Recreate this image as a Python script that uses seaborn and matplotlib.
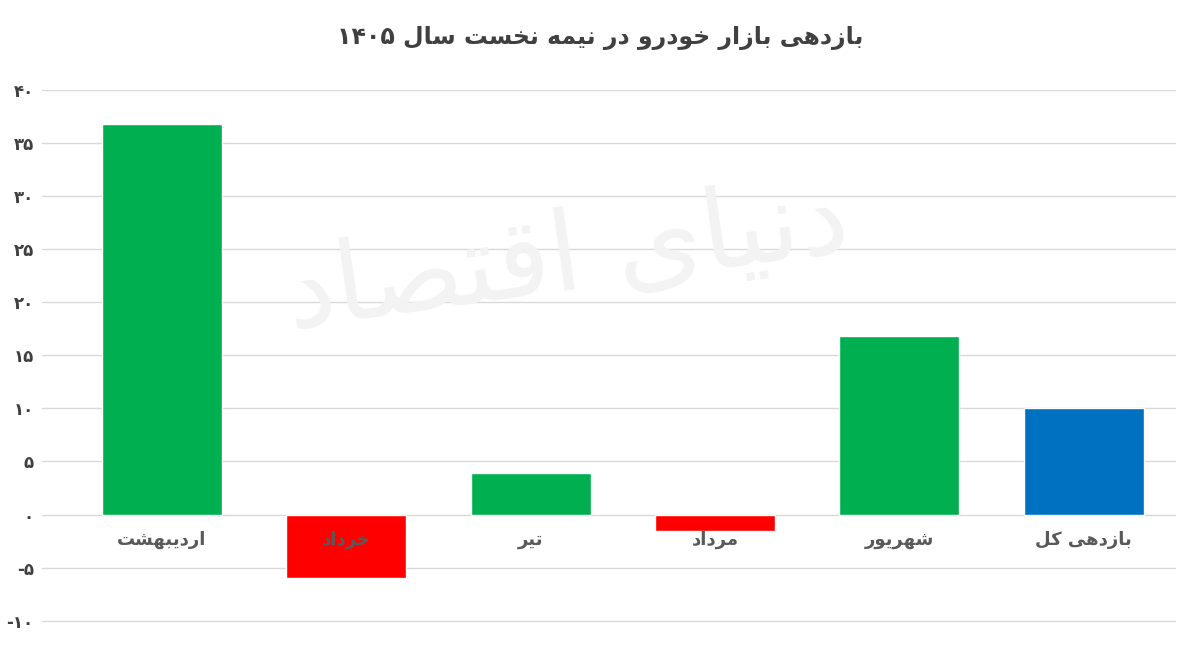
import matplotlib
matplotlib.use('Agg')
import matplotlib.pyplot as plt
import seaborn as sns
import pandas as pd

months = ["اردیبهشت", "خرداد", "تیر", "مرداد", "شهریور", "بازدهی کل"]
returns = [36.8, -6.0, 3.9, -1.5, 16.8, 10.0]
colors = ["#00B050", "#FF0000", "#00B050", "#FF0000", "#00B050", "#0070C0"]
title = "بازدهی بازار خودرو در نیمه نخست سال ۱۴۰۵"
yticks = list(range(-10, 45, 5))

# minimal Persian shaping: (isolated, final, initial, medial); 2-tuple = no joining to next
FORMS = {
    'ا': (0xFE8D, 0xFE8E), 'د': (0xFEA9, 0xFEAA), 'ر': (0xFEAD, 0xFEAE),
    'ز': (0xFEAF, 0xFEB0), 'و': (0xFEED, 0xFEEE),
    'ب': (0xFE8F, 0xFE90, 0xFE91, 0xFE92), 'ت': (0xFE95, 0xFE96, 0xFE97, 0xFE98),
    'خ': (0xFEA5, 0xFEA6, 0xFEA7, 0xFEA8), 'س': (0xFEB1, 0xFEB2, 0xFEB3, 0xFEB4),
    'ش': (0xFEB5, 0xFEB6, 0xFEB7, 0xFEB8), 'ل': (0xFEDD, 0xFEDE, 0xFEDF, 0xFEE0),
    'م': (0xFEE1, 0xFEE2, 0xFEE3, 0xFEE4), 'ن': (0xFEE5, 0xFEE6, 0xFEE7, 0xFEE8),
    'ه': (0xFEE9, 0xFEEA, 0xFEEB, 0xFEEC), 'ی': (0xFBFC, 0xFBFD, 0xFBFE, 0xFBFF),
    'ک': (0xFB8E, 0xFB8F, 0xFB90, 0xFB91), 'ق': (0xFED5, 0xFED6, 0xFED7, 0xFED8),
    'ص': (0xFEB9, 0xFEBA, 0xFEBB, 0xFEBC),
}


def shape(text):
    out = []
    for w in text.split(' '):
        chars = []
        for i, c in enumerate(w):
            if c not in FORMS:
                chars.append(c)
                continue
            f = FORMS[c]
            prev = w[i - 1] if i > 0 else None
            nxt = w[i + 1] if i + 1 < len(w) else None
            jp = prev in FORMS and len(FORMS[prev]) == 4
            jn = len(f) == 4 and nxt in FORMS
            if jp and jn:
                k = 3
            elif jp:
                k = 1
            elif jn:
                k = 2
            else:
                k = 0
            chars.append(chr(f[k]))
        if all(ch.isdigit() for ch in w):
            out.append(w)
        else:
            out.append(''.join(reversed(chars)))
    return ' '.join(reversed(out))


def fa_num(n):
    s = str(abs(n)).translate(str.maketrans('0123456789', '۰۱۲۳۴۵۶۷۸۹'))
    return ('-' if n < 0 else '') + s


sns.set_style('white')
plt.rcParams['font.family'] = ['DejaVu Sans']

df = pd.DataFrame({'month': months, 'ret': returns})
fig = plt.figure(figsize=(12, 6.5), dpi=100)
ax = fig.add_axes([0.035, 0.04, 0.945, 0.822])
sns.barplot(data=df, x='month', y='ret', hue='month', palette=colors,
            width=0.65, saturation=1, legend=False, ax=ax, zorder=3)

ax.set_xlim(-0.65, 5.5)
ax.set_ylim(-10.3, 40)
ax.set_yticks(yticks)
ax.set_yticklabels([fa_num(t) for t in yticks], fontsize=12, fontweight='bold', color='#404040')
ax.tick_params(axis='y', length=0, pad=6)
ax.set_xticks([])
ax.set_xlabel('')
ax.set_ylabel('')
ax.grid(axis='y', color='#d9d9d9', lw=1, zorder=0)
for s in ax.spines.values():
    s.set_visible(False)

for i, m in enumerate(months):
    ax.text(i, -2.4, shape(m), ha='center', va='center', fontsize=13,
            fontweight='bold', color='#595959', zorder=4)

# faint watermark
ax.text(2.2, 24, shape("دنیای اقتصاد"), ha='center', va='center', fontsize=80,
        color='#f3f3f3', zorder=1, rotation=8)

fig.suptitle(shape(title), y=0.96, fontsize=17, fontweight='bold', color='#404040')
fig.savefig('out.png', dpi=100)
